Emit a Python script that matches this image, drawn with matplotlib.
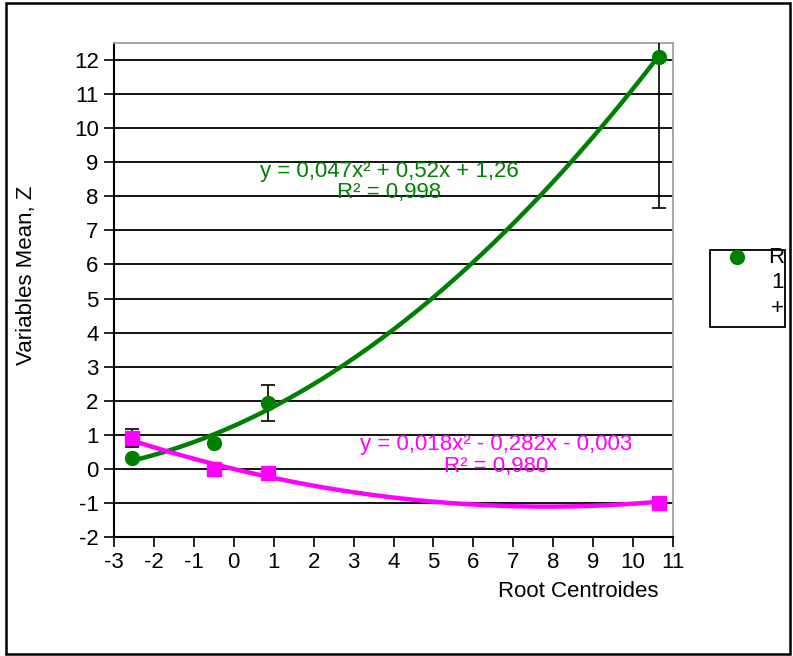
import matplotlib
matplotlib.use("Agg")
import matplotlib.pyplot as plt
import numpy as np
from matplotlib.patches import Rectangle
from matplotlib.lines import Line2D

plt.rcParams['font.family'] = ['Liberation Sans', 'DejaVu Sans']

# Root centroid positions and group means
root_centroids = [-2.55, -0.5, 0.85, 10.65]
series_r = [0.33, 0.76, 1.94, 12.09]
series_1 = [0.91, 0.0, -0.12, -1.0]
err_r = [0.0, 0.0, 0.53, 4.43]
err_1 = [0.26, 0.0, 0.0, 0.0]

# Quadratic trendline coefficients (a, b, c) for y = a x^2 + b x + c
coef_r = (0.047, 0.52, 1.26)
coef_1 = (0.018, -0.282, -0.003)
label_r = "y = 0,047x\u00b2 + 0,52x + 1,26\nR\u00b2 = 0,998"
label_1 = "y = 0,018x\u00b2 - 0,282x - 0,003\nR\u00b2 = 0,980"

x_ticks = list(range(-3, 12))
y_ticks = list(range(-2, 13))

GREEN = "#008000"
MAGENTA = "#FF00FF"
FS = 16

W, H = 793, 656
fig = plt.figure(figsize=(W / 100, H / 100), dpi=100)
ax = fig.add_axes([114 / W, 1 - 537 / H, 559 / W, 494 / H])

ax.set_xlim(-3, 11)
ax.set_ylim(-2, 12.5)
ax.set_xticks(x_ticks)
ax.set_yticks(y_ticks)
ax.set_xticklabels([str(t) for t in x_ticks])
ax.set_yticklabels([str(t) for t in y_ticks])
ax.tick_params(axis='both', direction='out', length=7, width=1.2, labelsize=FS, pad=4, color='black')

for t in y_ticks:
    ax.axhline(t, color='black', lw=1.3, zorder=1)

for side in ('top', 'right'):
    ax.spines[side].set_color('#A0A0A0')
    ax.spines[side].set_linewidth(1.3)
for side in ('left', 'bottom'):
    ax.spines[side].set_color('black')
    ax.spines[side].set_linewidth(1.5)

# Trendlines
xs = np.linspace(min(root_centroids), max(root_centroids), 300)
a, b, c = coef_r
ax.plot(xs, a * xs**2 + b * xs + c, color=GREEN, lw=3.2, zorder=3, solid_capstyle='butt')
a, b, c = coef_1
ax.plot(xs, a * xs**2 + b * xs + c, color=MAGENTA, lw=3.2, zorder=3, solid_capstyle='butt')

# Error bars
ax.errorbar(root_centroids, series_r, yerr=err_r, fmt='none', ecolor='black',
            elinewidth=1.2, capsize=5, capthick=1.2, zorder=4)
ax.errorbar(root_centroids, series_1, yerr=err_1, fmt='none', ecolor='black',
            elinewidth=1.2, capsize=5, capthick=1.2, zorder=4)

# Data points
ax.plot(root_centroids, series_r, 'o', color=GREEN, ms=10, zorder=5)
ax.plot(root_centroids, series_1, 's', color=MAGENTA, ms=9.5, zorder=5)

# Trendline equations
ax.text(3.9, 8.42, label_r, color=GREEN, fontsize=FS, ha='center', va='center',
        linespacing=1.0, zorder=6)
ax.text(6.57, 0.4, label_1, color=MAGENTA, fontsize=FS, ha='center', va='center',
        linespacing=1.05, zorder=6)

ax.set_xlabel("Root Centroides", fontsize=FS)
ax.xaxis.set_label_coords(0.83, -0.09)
ax.set_ylabel("Variables Mean, Z", fontsize=FS)
ax.yaxis.set_label_coords(-0.137, 0.53)

# Outer chart border
fig.patches.append(Rectangle((6 / W, 1 - 654 / H), 784 / W, 651 / H, transform=fig.transFigure,
                             fill=False, edgecolor='black', lw=1.8))

# Legend box
lx0, lx1, ly0, ly1 = 710, 785, 250, 327
fig.patches.append(Rectangle((lx0 / W, 1 - ly1 / H), (lx1 - lx0) / W, (ly1 - ly0) / H,
                             transform=fig.transFigure, fill=False, edgecolor='black', lw=1.3))
fig.add_artist(Line2D([737 / W], [1 - 257 / H], marker='o', color=GREEN, ms=10,
                      transform=fig.transFigure))
for txt, yy in (("R", 257), ("1", 283), ("+", 308)):
    fig.text(784 / W, 1 - yy / H, txt, fontsize=FS, ha='right', va='center')

fig.savefig("out.png", dpi=100)
